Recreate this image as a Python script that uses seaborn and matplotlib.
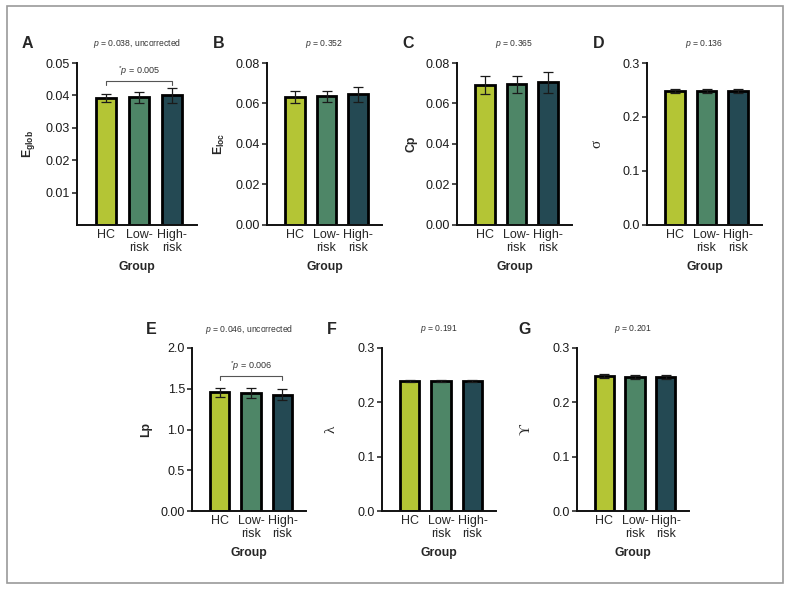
import numpy as np
import pandas as pd
import seaborn as sns
import matplotlib.pyplot as plt
from matplotlib.patches import Rectangle

# group labels and colours
groups = ["HC", "Low-\nrisk", "High-\nrisk"]
group_colors = ["#b4c535", "#4e8667", "#244953"]

# panel values (mean, error)
eglob_mean = [0.0392, 0.0394, 0.0400]
eglob_err = [0.0013, 0.0018, 0.0022]
eloc_mean = [0.0631, 0.0636, 0.0645]
eloc_err = [0.0030, 0.0028, 0.0038]
cp_mean = [0.0693, 0.0694, 0.0705]
cp_err = [0.0044, 0.0041, 0.0051]
sigma_mean = [0.248, 0.248, 0.248]
sigma_err = [0.0035, 0.0035, 0.0035]
lp_mean = [1.456, 1.448, 1.428]
lp_err = [0.057, 0.065, 0.070]
lambda_mean = [0.239, 0.239, 0.239]
lambda_err = [0.0012, 0.0012, 0.0012]
gamma_mean = [0.248, 0.247, 0.247]
gamma_err = [0.004, 0.004, 0.004]

sns.set_style("ticks")
plt.rcParams['font.family'] = ['Liberation Sans', 'DejaVu Sans']
plt.rcParams['mathtext.fontset'] = 'custom'
plt.rcParams['mathtext.rm'] = 'Liberation Sans'
plt.rcParams['mathtext.it'] = 'Liberation Sans:italic'
plt.rcParams['mathtext.bf'] = 'Liberation Sans:bold'

W, H = 791, 591
fig = plt.figure(figsize=(W / 100, H / 100), dpi=100)

# frame around the figure
fig.patches.append(Rectangle((7 / W, 1 - 583 / H), 776 / W, 577 / H,
                             transform=fig.transFigure, fill=False,
                             edgecolor="#9a9a9a", linewidth=1.2))

panels = [
    # letter, mean, err, ylabel, ylim, yticks, ticklabels, ptext, bracket, box(left, top, width, height), letter_x
    ("A", eglob_mean, eglob_err, r"$\mathbf{E}_{\mathbf{glob}}$", (0, 0.05),
     [0.01, 0.02, 0.03, 0.04, 0.05], ["0.01", "0.02", "0.03", "0.04", "0.05"],
     r"$\mathit{p}$ = 0.038, uncorrected", (0.0444, r"$^{*}\mathit{p}$ = 0.005"),
     (77, 63, 120, 162), 22),
    ("B", eloc_mean, eloc_err, r"$\mathbf{E}_{\mathbf{loc}}$", (0, 0.08),
     [0, 0.02, 0.04, 0.06, 0.08], ["0.00", "0.02", "0.04", "0.06", "0.08"],
     r"$\mathit{p}$ = 0.352", None, (267, 63, 115, 162), 213),
    ("C", cp_mean, cp_err, "Cp", (0, 0.08),
     [0, 0.02, 0.04, 0.06, 0.08], ["0.00", "0.02", "0.04", "0.06", "0.08"],
     r"$\mathit{p}$ = 0.365", None, (457, 63, 115, 162), 402),
    ("D", sigma_mean, sigma_err, "σ", (0, 0.3),
     [0, 0.1, 0.2, 0.3], ["0.0", "0.1", "0.2", "0.3"],
     r"$\mathit{p}$ = 0.136", None, (647, 63, 115, 162), 593),
    ("E", lp_mean, lp_err, "Lp", (0, 2.0),
     [0, 0.5, 1.0, 1.5, 2.0], ["0.00", "0.5", "1.0", "1.5", "2.0"],
     r"$\mathit{p}$ = 0.046, uncorrected", (1.656, r"$^{*}\mathit{p}$ = 0.006"),
     (192, 348, 114, 163), 146),
    ("F", lambda_mean, lambda_err, "λ", (0, 0.3),
     [0, 0.1, 0.2, 0.3], ["0.0", "0.1", "0.2", "0.3"],
     r"$\mathit{p}$ = 0.191", None, (382, 348, 114, 163), 327),
    ("G", gamma_mean, gamma_err, "ϒ", (0, 0.3),
     [0, 0.1, 0.2, 0.3], ["0.0", "0.1", "0.2", "0.3"],
     r"$\mathit{p}$ = 0.201", None, (577, 348, 112, 163), 518),
]

for (letter, mean, err, ylabel, ylim, yticks, ylabels, ptext, bracket,
     box, letter_x) in panels:
    left, top, width, height = box
    ax = fig.add_axes([left / W, 1 - (top + height) / H, width / W, height / H])
    df = pd.DataFrame({"group": groups, "value": mean})
    sns.barplot(data=df, x="group", y="value", hue="group", palette=group_colors,
                saturation=1, edgecolor="black", linewidth=2.0, width=0.62,
                legend=False, ax=ax, zorder=2)
    ax.errorbar(np.arange(len(groups)), mean, yerr=err, fmt="none",
                ecolor="#1a1a1a", elinewidth=0.9, capsize=3.8, capthick=0.9,
                zorder=3)

    ax.set_xlim(-0.88, 2.75)
    ax.set_ylim(*ylim)
    ax.set_yticks(yticks)
    ax.set_yticklabels(ylabels)
    ax.tick_params(axis="y", length=3.6, width=1.1, pad=1.5, labelsize=9,
                   colors="#1a1a1a")
    ax.tick_params(axis="x", length=0, pad=3, labelsize=9)
    for lbl in ax.get_xticklabels():
        lbl.set_linespacing(1.1)
    sns.despine(ax=ax)
    for sp in ("left", "bottom"):
        ax.spines[sp].set_linewidth(1.4)
        ax.spines[sp].set_color("#111111")

    ax.set_xlabel("Group", fontsize=8.8, fontweight="bold", labelpad=5)
    if ylabel in ("σ", "λ", "ϒ"):
        ax.set_ylabel(ylabel, fontsize=11, family=["Liberation Serif", "DejaVu Serif"])
        ax.yaxis.set_label_coords(-44 / width, 0.5)
    else:
        ax.set_ylabel(ylabel, fontsize=8.8, fontweight="bold")
        ax.yaxis.set_label_coords(-40 / width, 0.5)

    # p-value above the axes and panel letter
    cy = top - 19
    fig.text((left + width / 2) / W, 1 - cy / H, ptext, fontsize=6.2,
             ha="center", va="center", color="#333333")
    fig.text(letter_x / W, 1 - cy / H, letter, fontsize=11.5, fontweight="bold",
             ha="left", va="center")

    if bracket is not None:
        by, btxt = bracket
        drop = (ylim[1] - ylim[0]) * 0.025
        ax.plot([0, 0, 2, 2], [by - drop, by, by, by - drop], color="#555555",
                linewidth=0.8, zorder=3, clip_on=False)
        ax.text(1, by + drop * 0.8, btxt, fontsize=6.5, ha="center", va="bottom",
                color="#333333")

fig.savefig("out.png", dpi=100)
plt.close(fig)
